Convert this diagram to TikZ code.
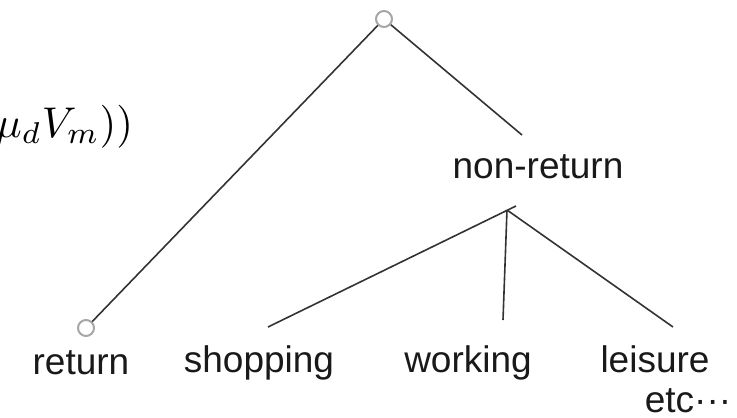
\documentclass[tikz,border=0pt]{standalone}
\usepackage{fontspec}
\newfontfamily\labfont{Liberation Sans}
\tikzset{
  circ/.style={circle, draw=black!35, line width=2pt, minimum size=16pt, inner sep=0pt},
  lab/.style={font=\labfont\fontsize{37}{42}\selectfont, text=black!90, inner sep=0pt, anchor=base},
  conn/.style={draw=black!80, line width=1.6pt}
}
\begin{document}
\begin{tikzpicture}[x=1pt,y=-1pt]
\useasboundingbox (0,0) rectangle (737,418);
\clip (0,0) rectangle (737,418);
% formula fragment
\node[anchor=base east, inner sep=0pt, scale=4.3] (formula) at (134,137) {$\mu_d V_m))$};
% nodes
\node[circ] (top) at (384,19) {};
\node[circ] (ret) at (86,328) {};
\node[lab] (nonret) at (538,178) {non-return};
\node[lab] (return) at (81,374) {return};
\node[lab] (shopping) at (259,372) {shopping};
\node[lab] (working) at (468,372) {working};
\node[lab] (leisure) at (655,372) {leisure};
\node[lab] (etc) at (688,412) {etc\textperiodcentered\textperiodcentered\textperiodcentered};
% connector ends
\coordinate (nrtop) at (522,135);
\coordinate (hub) at (507,210);
\coordinate (hubl) at (516,206);
\coordinate (shopT) at (268,327);
\coordinate (workT) at (503,320);
\coordinate (leiT) at (673,327);
% connectors
\draw[conn] (top) -- (ret);
\draw[conn] (top) -- (nrtop);
\draw[conn] (shopT) -- (hubl);
\draw[conn] (hub) -- (workT);
\draw[conn] (hub) -- (leiT);
\end{tikzpicture}
\end{document}
